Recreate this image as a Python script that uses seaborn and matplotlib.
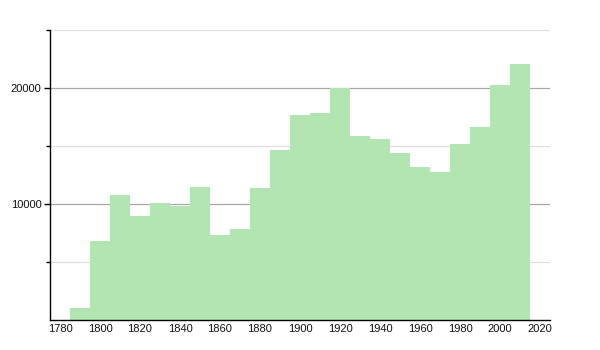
import matplotlib
matplotlib.use("Agg")
import matplotlib.pyplot as plt
import seaborn as sns
import numpy as np
import pandas as pd
from matplotlib.ticker import FixedLocator

years = [1790, 1800, 1810, 1820, 1830, 1840, 1850, 1860, 1870, 1880, 1890, 1900,
         1910, 1920, 1930, 1940, 1950, 1960, 1970, 1980, 1990, 2000, 2010]
population = [1060, 6840, 10780, 8970, 10090, 9860, 11470, 7330, 7820, 11410, 14660, 17670,
              17840, 19970, 15860, 15600, 14400, 13190, 12760, 15200, 16640, 20260, 22100]
x_ticks = [1780, 1800, 1820, 1840, 1860, 1880, 1900, 1920, 1940, 1960, 1980, 2000, 2020]
y_ticks = [10000, 20000]

df = pd.DataFrame({"year": years, "population": population})

sns.set_style("white")
plt.rcParams["font.family"] = ["Liberation Sans", "DejaVu Sans"]

fig = plt.figure(figsize=(6, 3.5), dpi=100)
ax = fig.add_axes([50/600, 30/350, 500/600, 290/350])

sns.barplot(data=df, x="year", y="population", native_scale=True, width=1,
            color="#b3e5b3", saturation=1, linewidth=0, errorbar=None,
            ax=ax, zorder=2)

ax.set_xlim(1775, 2025)
ax.set_ylim(0, 25000)
ax.set_xticks(x_ticks)
ax.set_xticklabels([str(t) for t in x_ticks])
ax.set_yticks(y_ticks)
ax.set_yticklabels([str(t) for t in y_ticks])
ax.yaxis.set_minor_locator(FixedLocator([5000, 15000, 25000]))
ax.set_xlabel("")
ax.set_ylabel("")

ax.grid(False)
for v in y_ticks:
    ax.axhline(v, color="#a8a8a8", linewidth=0.9, zorder=1)
for v in [5000, 15000, 25000]:
    ax.axhline(v, color="#e0e0e0", linewidth=0.9, zorder=1)

for s in ["top", "right"]:
    ax.spines[s].set_visible(False)
for s in ["left", "bottom"]:
    ax.spines[s].set_color("black")
    ax.spines[s].set_linewidth(1.0)
    ax.spines[s].set_zorder(3)

ax.tick_params(axis="y", which="major", length=4, width=1, color="black",
               labelsize=8, labelcolor="#111111", pad=2, left=True)
ax.tick_params(axis="y", which="minor", length=3, width=1, color="black", left=True)
ax.tick_params(axis="x", which="major", length=0, labelsize=8, labelcolor="#111111",
               pad=3, bottom=True)

fig.savefig("out.png", dpi=100)
